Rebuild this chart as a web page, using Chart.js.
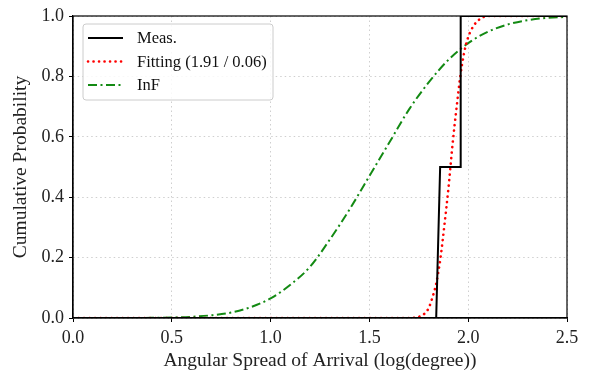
<!DOCTYPE html>
<html>
<head>
<meta charset="utf-8">
<script src="https://cdn.jsdelivr.net/npm/chart.js@4.4.1/dist/chart.umd.min.js"></script>
<style>
  html, body { margin: 0; padding: 0; background: #fff; }
  #wrap { width: 591px; height: 373px; }
</style>
</head>
<body>
<div id="wrap"><canvas id="cdf"></canvas></div>
<script>
const seriesLabels = ['Meas.', 'Fitting (1.91 / 0.06)', 'InF']

const measX = [0.0, 1.838, 1.858, 1.960, 1.962, 2.5]
const measY = [0.0, 0.0, 0.5, 0.5, 1.0, 1.0]

const fitX = [0.0, 1.70, 1.75, 1.78, 1.80, 1.82, 1.84, 1.86, 1.88, 1.90, 1.92, 1.94, 1.96, 1.98, 2.00, 2.03, 2.06, 2.10, 2.5]
const fitY = [0.0, 0.0, 0.004, 0.015, 0.033, 0.07, 0.12, 0.20, 0.31, 0.43, 0.57, 0.69, 0.80, 0.88, 0.93, 0.97, 0.99, 1.0, 1.0]

const infX = [0.0, 0.3, 0.4, 0.5, 0.6, 0.7, 0.8, 0.9, 1.0, 1.1, 1.2, 1.3, 1.4, 1.5, 1.6, 1.7, 1.8, 1.9, 2.0, 2.1, 2.2, 2.3, 2.4, 2.5]
const infY = [0.0, 0.0002, 0.0006, 0.0016, 0.004, 0.009, 0.018, 0.036, 0.065, 0.11, 0.17, 0.26, 0.36, 0.47, 0.58, 0.69, 0.78, 0.855, 0.91, 0.948, 0.972, 0.986, 0.994, 0.997]

const xTicks = [0.0, 0.5, 1.0, 1.5, 2.0, 2.5]
const yTicks = [0.0, 0.2, 0.4, 0.6, 0.8, 1.0]

const pts = (xs, ys) => xs.map((x, i) => ({ x: x, y: ys[i] }))
const serif = 'Liberation Serif'

// frame round the plot and the legend box in the upper left
const framePlugin = {
    id: 'frame',
    afterDraw(chart) {
        const { ctx, chartArea: a } = chart
        ctx.save()
        ctx.strokeStyle = '#000'
        ctx.lineWidth = 1.2
        ctx.strokeRect(a.left, a.top, a.right - a.left, a.bottom - a.top)

        // legend
        const bx = a.left + 10, by = a.top + 8, bw = 190, bh = 76
        ctx.fillStyle = 'rgba(255,255,255,0.85)'
        ctx.strokeStyle = '#cccccc'
        ctx.lineWidth = 1
        ctx.beginPath()
        ctx.roundRect(bx, by, bw, bh, 3)
        ctx.fill()
        ctx.stroke()

        chart.data.datasets.forEach((ds, i) => {
            const yy = by + 14 + i * 23.5
            ctx.strokeStyle = ds.borderColor
            ctx.lineWidth = ds.borderWidth
            ctx.lineCap = ds.borderCapStyle || 'butt'
            ctx.setLineDash(ds.borderDash || [])
            ctx.beginPath()
            ctx.moveTo(bx + 5, yy)
            ctx.lineTo(bx + 40, yy)
            ctx.stroke()
            ctx.setLineDash([])
            ctx.fillStyle = '#111'
            ctx.font = '16.5px "' + serif + '"'
            ctx.textBaseline = 'middle'
            ctx.fillText(seriesLabels[i], bx + 54, yy + 1)
        })
        ctx.restore()
    }
}

new Chart(document.getElementById('cdf'), {
    type: 'line',
    data: {
        datasets: [
            {
                label: seriesLabels[0],
                data: pts(measX, measY),
                borderColor: '#000000',
                borderWidth: 2,
                pointRadius: 0,
                tension: 0
            },
            {
                label: seriesLabels[1],
                data: pts(fitX, fitY),
                borderColor: '#ff0000',
                borderWidth: 2.6,
                borderDash: [0.1, 5.4],
                borderCapStyle: 'round',
                pointRadius: 0,
                cubicInterpolationMode: 'monotone'
            },
            {
                label: seriesLabels[2],
                data: pts(infX, infY),
                borderColor: '#138a13',
                borderWidth: 2,
                borderDash: [9, 3.5, 2, 3.5],
                pointRadius: 0,
                cubicInterpolationMode: 'monotone'
            }
        ]
    },
    options: {
        responsive: true,
        maintainAspectRatio: false,
        animation: false,
        layout: { padding: { top: 16, right: 24, left: 0, bottom: 0 } },
        plugins: {
            legend: { display: false },
            tooltip: { enabled: false }
        },
        scales: {
            x: {
                type: 'linear',
                min: 0,
                max: 2.5,
                afterFit: s => { s.height = 55 },
                afterBuildTicks: s => { s.ticks = xTicks.map(v => ({ value: v })) },
                grid: { color: '#cfcfcf', tickColor: '#000', tickLength: 4, lineWidth: 1 },
                border: { color: '#000', width: 1.2, dash: [1.5, 3] },
                ticks: {
                    color: '#222',
                    padding: 5,
                    maxRotation: 0,
                    font: { family: serif, size: 18 },
                    callback: v => v.toFixed(1)
                },
                title: {
                    display: true,
                    text: 'Angular Spread of Arrival (log(degree))',
                    color: '#222',
                    padding: { top: 0, bottom: 0 },
                    font: { family: serif, size: 19.5 }
                }
            },
            y: {
                min: 0,
                max: 1,
                afterFit: s => { s.width = 73 },
                afterBuildTicks: s => { s.ticks = yTicks.map(v => ({ value: v })) },
                grid: { color: '#cfcfcf', tickColor: '#000', tickLength: 4, lineWidth: 1 },
                border: { color: '#000', width: 1.2, dash: [1.5, 3] },
                ticks: {
                    color: '#222',
                    padding: 5,
                    font: { family: serif, size: 18 },
                    callback: v => v.toFixed(1)
                },
                title: {
                    display: true,
                    text: 'Cumulative Probability',
                    color: '#222',
                    padding: { top: 9, bottom: 0 },
                    font: { family: serif, size: 19.5 }
                }
            }
        }
    },
    plugins: [framePlugin]
})
</script>
</body>
</html>
